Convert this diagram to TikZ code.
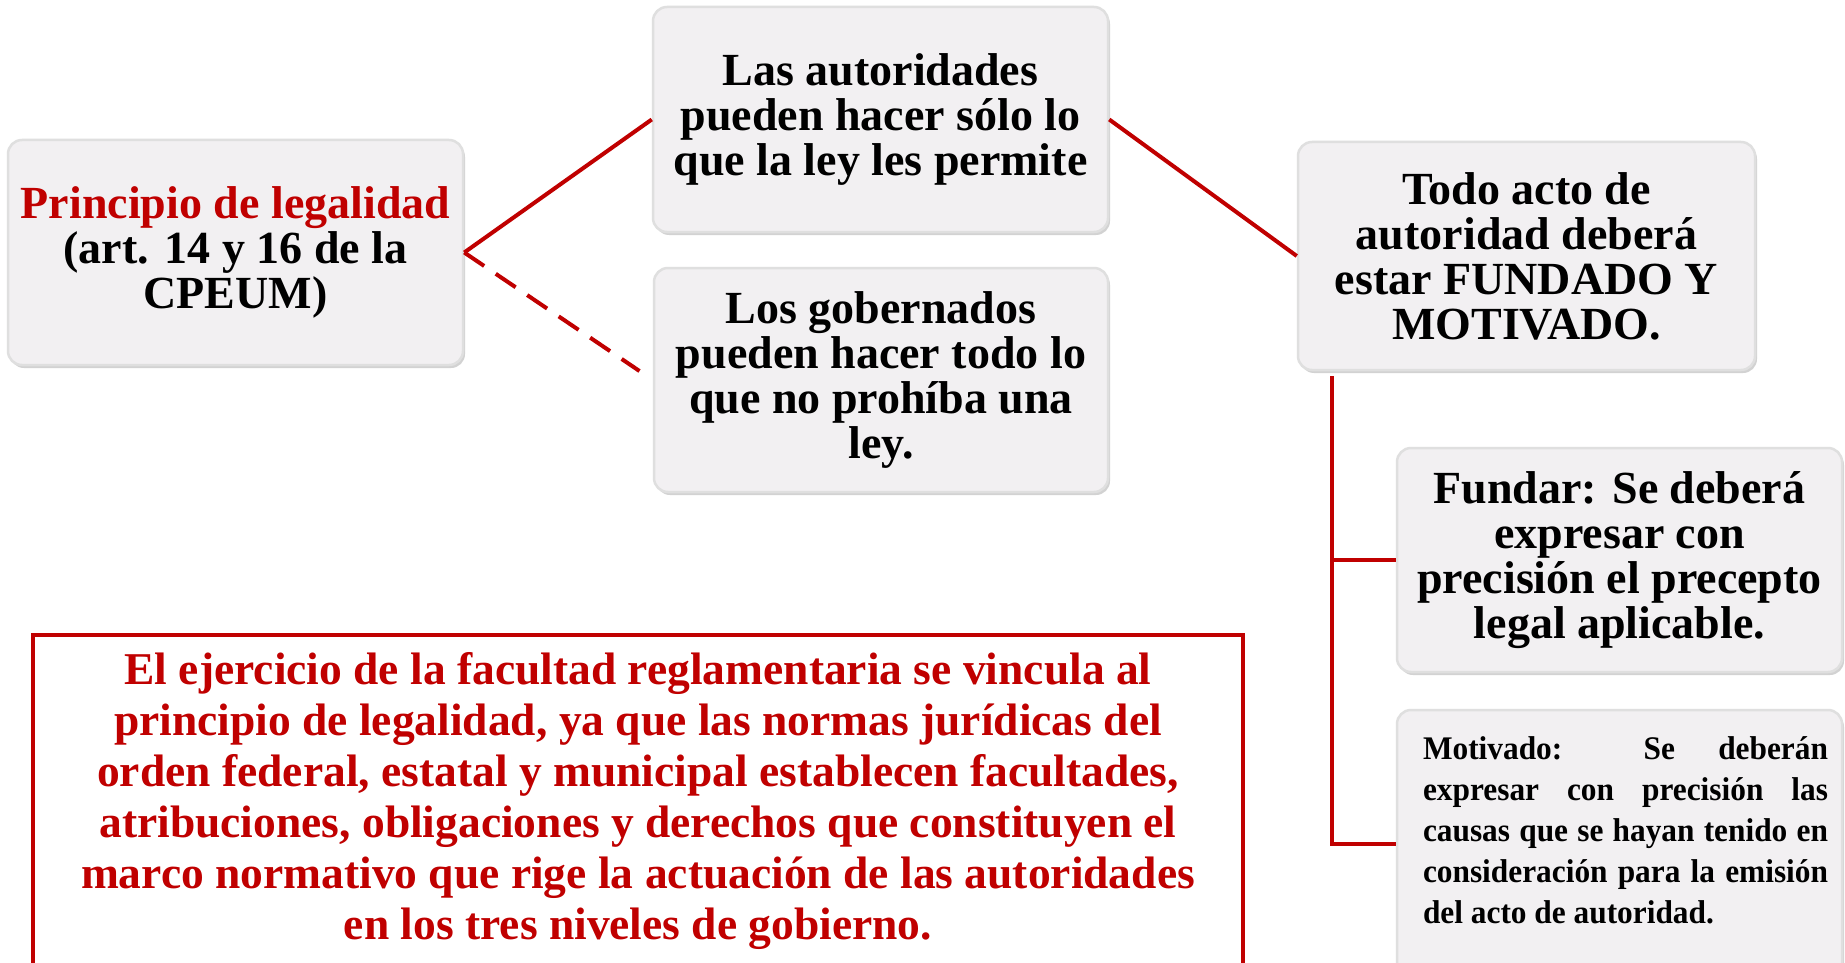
\documentclass[tikz,border=0pt]{standalone}
\usepackage{fontspec}
\setmainfont{Liberation Serif}
\newfontfamily\condserif[FakeStretch=0.95]{Liberation Serif}
\usetikzlibrary{shadows}
\definecolor{rojo}{RGB}{192,0,0}
\definecolor{fondocaja}{RGB}{242,240,242}
\tikzset{
  caja/.style={draw=gray!25, line width=2.5pt, fill=fondocaja, rounded corners=14pt,
    align=center, inner sep=0pt, font=\fontsize{46}{45}\selectfont\bfseries,
    drop shadow={shadow xshift=2pt,shadow yshift=-3pt,opacity=.35}},
  linea/.style={draw=rojo, line width=4pt},
}

\begin{document}
\begin{tikzpicture}[x=1pt,y=-1pt]
\useasboundingbox (0,0) rectangle (1845,963);
\clip (0,0) rectangle (1845,963);
\fill[white] (0,0) rectangle (1845,963);

\node[caja, minimum width=455pt, minimum height=225pt] (principio) at (235.5,252.5)
  {\textcolor{rojo}{Principio de legalidad}\\(art. 14 y 16 de la\\CPEUM)};
\node[caja, minimum width=455pt, minimum height=225pt] (autoridades) at (880.5,119.5)
  {Las autoridades\\pueden hacer sólo lo\\que la ley les permite};
\node[caja, minimum width=454pt, minimum height=224pt] (gobernados) at (881,380)
  {Los gobernados\\pueden hacer todo lo\\que no prohíba una\\ley.};
\node[caja, minimum width=457pt, minimum height=228pt] (todo) at (1526.5,256)
  {Todo acto de\\autoridad deberá\\estar FUNDADO Y\\MOTIVADO.};
\node[caja, minimum width=445pt, minimum height=224pt] (fundar) at (1619.5,560)
  {Fundar: Se deberá\\expresar con\\precisión el precepto\\legal aplicable.};
\node[caja, minimum width=445pt, minimum height=268pt] (motivado) at (1619.5,844) {};
\node[text width=405pt, align=justify, inner sep=0pt,
  font=\condserif\fontsize{33}{41}\selectfont\bfseries] (motivtexto) at (1625.5,830)
  {\hyphenpenalty=10000 Motivado: Se deberán\linebreak expresar con precisión las\linebreak
   causas que se hayan tenido en\linebreak consideración para la emisión\linebreak
   del acto de autoridad.};

\node[draw=rojo, line width=4pt, minimum width=1210pt, minimum height=332pt, inner sep=0pt,
  align=center, text=rojo, font=\fontsize{45.5}{51}\selectfont\bfseries] (facultad) at (638,801)
  {El ejercicio de la facultad reglamentaria se vincula al\\
   principio de legalidad, ya que las normas jurídicas del\\
   orden federal, estatal y municipal establecen facultades,\\
   atribuciones, obligaciones y derechos que constituyen el\\
   marco normativo que rige la actuación de las autoridades\\
   en los tres niveles de gobierno.};

\draw[linea] (principio.east) -- (autoridades.west);
\draw[linea, dash pattern=on 24pt off 14pt, shorten >=16pt] (principio.east) -- (gobernados.west);
\draw[linea] (autoridades.east) -- (todo.west);

\coordinate (bk) at ([xshift=35pt,yshift=-5pt]todo.south west);
\draw[linea] (bk) |- (fundar.west);
\draw[linea] (bk) |- (motivado.west);
\end{tikzpicture}
\end{document}
